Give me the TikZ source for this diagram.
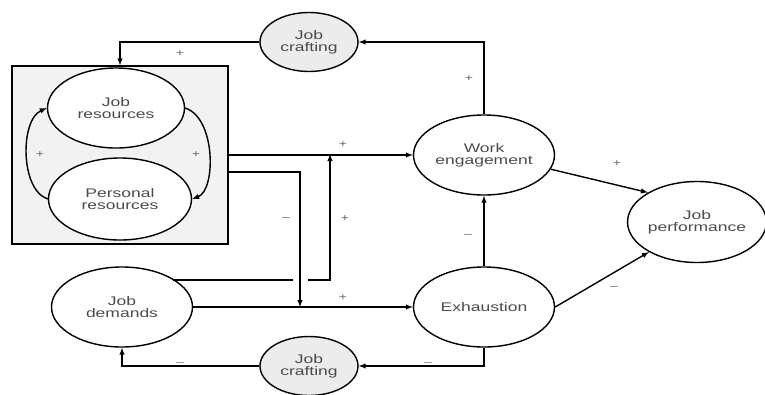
\documentclass[tikz,border=0pt]{standalone}
\usepackage{fontspec}
\setmainfont{Liberation Sans}
\newfontfamily\wideface[FakeStretch=1.4]{Liberation Sans}
\usetikzlibrary{shapes.geometric}
\tikzset{
	factor/.style = {ellipse, draw, line width=1.4pt, fill=white, inner sep=0pt,
		minimum width=141pt, minimum height=80pt, align=center, text=black!70,
		font=\wideface\fontsize{12.5}{12}\selectfont},
	crafting/.style = {factor, fill=gray!15, minimum width=98pt, minimum height=59pt},
	link/.style = {-latex, line width=1.4pt},
	sign/.style = {text=black!60, font=\wideface\fontsize{10}{10}\selectfont, inner sep=0pt}
}
\begin{document}
\begin{tikzpicture}[x=1pt, y=-1pt]
	\useasboundingbox (0,0) rectangle (765,394);
	\node[draw, line width=1.4pt, fill=gray!10, minimum width=216pt, minimum height=178pt] (box) at (120,155) {};
	\node[factor, minimum width=137pt] (jr) at (116,108) {Job\\resources};
	\node[factor, minimum width=143pt, minimum height=82pt] (pr) at (120,199) {Personal\\resources};
	\node[factor] (jd) at (122,307) {Job\\demands};
	\node[factor] (we) at (484,155) {Work\\engagement};
	\node[factor] (ex) at (484,307) {Exhaustion};
	\node[factor, minimum width=135pt, minimum height=81pt] (jp) at (697,222) {Job\\performance};
	\node[crafting] (jc1) at (309,42) {Job\\crafting};
	\node[crafting] (jc2) at (309,366) {Job\\crafting};
	\coordinate (b2) at (228,172);
	\coordinate (d1) at (173,280);
	\coordinate (m1) at (300,307);
	\coordinate (m2) at (330,155);
	% resources loop
	\draw[link] (pr.west) .. controls (20,190) and (20,120) .. (jr.west);
	\draw[link] (jr.east) .. controls (216,118) and (216,190) .. (pr.east);
	% upper feedback
	\draw[link] (we.north) |- (jc1.east);
	\draw[link] (jc1.west) -| (box.north);
	% lower feedback
	\draw[link] (ex.south) |- (jc2.east);
	\draw[link] (jc2.west) -| (jd.south);
	% main paths
	\draw[link] (box.east) -- (we.west);
	\draw[line width=1.4pt] (d1) -- ([xshift=-7pt]m1 |- d1);
	\draw[link] ([xshift=8pt]m1 |- d1) -| ([yshift=1pt]m2);
	\draw[link] (b2) -| (m1);
	\draw[link] (jd.east) -- (ex.west);
	\draw[link] (ex.north) -- (we.south);
	\draw[link] (we.-12) -- (jp.149);
	\draw[link] (ex.east) -- (jp.212);
	% signs
	\node[sign] (s1) at (180,54) {+};
	\node[sign] (s2) at (469,79) {+};
	\node[sign] (s3) at (40,155) {+};
	\node[sign] (s4) at (196,155) {+};
	\node[sign] (s5) at (343,145) {+};
	\node[sign] (s6) at (286,219) {–};
	\node[sign] (s7) at (345,219) {+};
	\node[sign] (s8) at (343,298) {+};
	\node[sign] (s9) at (468,236) {–};
	\node[sign] (s10) at (617,164) {+};
	\node[sign] (s11) at (614,288) {–};
	\node[sign] (s12) at (428,364) {–};
	\node[sign] (s13) at (180,364) {–};
\end{tikzpicture}
\end{document}
